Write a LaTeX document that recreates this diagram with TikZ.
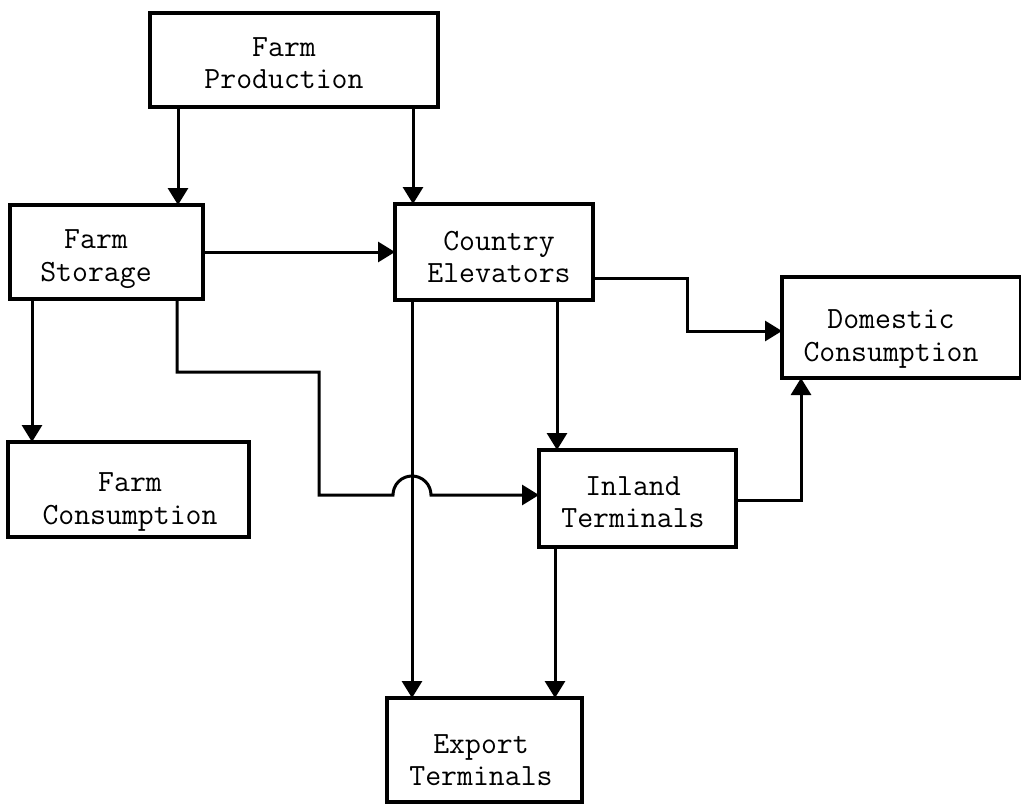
\documentclass[tikz,border=0pt]{standalone}
\usepackage{fontspec}
\usetikzlibrary{arrows.meta}
\begin{document}
\begin{tikzpicture}[x=1bp,y=-1bp,
  box/.style={draw=black, line width=3.2bp, rectangle, inner sep=0pt, outer sep=0pt},
  txt/.style={align=center, inner sep=0pt, font=\fontsize{31}{32.5}\selectfont\ttfamily},
  flow/.style={line width=3bp, line join=miter, -{Triangle[length=17bp,width=20bp]}}]
\useasboundingbox (0,0) rectangle (1021,806);
\fill[white] (0,0) rectangle (1021,806);

% boxes
\node[box, minimum width=288bp, minimum height=94bp]  (fp) at (294,60) {};
\node[box, minimum width=193bp, minimum height=94bp]  (fs) at (106.5,252) {};
\node[box, minimum width=198bp, minimum height=96bp]  (ce) at (494,252) {};
\node[box, minimum width=239bp, minimum height=101bp] (dc) at (901.5,327.5) {};
\node[box, minimum width=241bp, minimum height=95bp]  (fc) at (128.5,489.5) {};
\node[box, minimum width=197bp, minimum height=97bp]  (it) at (637.5,498.5) {};
\node[box, minimum width=195bp, minimum height=104bp] (et) at (484.5,750) {};

% labels
\node[txt] (fpt) at (284,63)  {Farm\\Production};
\node[txt] (fst) at (96,259)  {Farm\\Storage};
\node[txt] (cet) at (499,257) {Country\\Elevators};
\node[txt] (dct) at (891,339) {Domestic\\Consumption};
\node[txt] (fct) at (130,502) {Farm\\Consumption};
\node[txt] (itt) at (633,502) {Inland\\Terminals};
\node[txt] (ett) at (481,760) {Export\\Terminals};

% x and y positions of the flow lines
\coordinate (xa) at (178,0);
\coordinate (xb) at (413,0);
\coordinate (xc) at (32,0);
\coordinate (xd) at (177,0);
\coordinate (xe) at (412,0);
\coordinate (xf) at (557,0);
\coordinate (xg) at (555,0);
\coordinate (xh) at (801,0);
\coordinate (ya) at (0,252);
\coordinate (yb) at (0,278);
\coordinate (yc) at (0,331);
\coordinate (yd) at (0,495);
\coordinate (ye) at (0,500);
\coordinate (jogA) at (687,278);
\coordinate (jogB) at (687,331);
\coordinate (bendA) at (177,372);
\coordinate (bendB) at (319,372);
\coordinate (bendC) at (319,495);
\coordinate (hopL) at (393,495);
\coordinate (bendD) at (801,500);

% flows
\draw[flow] (fp.south -| xa) -- (fs.north -| xa);
\draw[flow] (fp.south -| xb) -- (ce.north -| xb);
\draw[flow] (fs.east |- ya) -- (ce.west |- ya);
\draw[flow] (fs.south -| xc) -- (fc.north -| xc);
\draw[flow] (ce.south -| xe) -- (et.north -| xe);
\draw[flow] (ce.south -| xf) -- (it.north -| xf);
\draw[flow] (it.south -| xg) -- (et.north -| xg);
\draw[flow] (ce.east |- yb) -- (jogA) -- (jogB) -- (dc.west |- yc);
\draw[flow] (it.east |- ye) -- (bendD) -- (dc.south -| xh);
\draw[flow] (fs.south -| xd) -- (bendA) -- (bendB) -- (bendC) -- (hopL)
  arc[start angle=180, end angle=0, radius=19bp] -- (it.west |- yd);
\end{tikzpicture}
\end{document}
